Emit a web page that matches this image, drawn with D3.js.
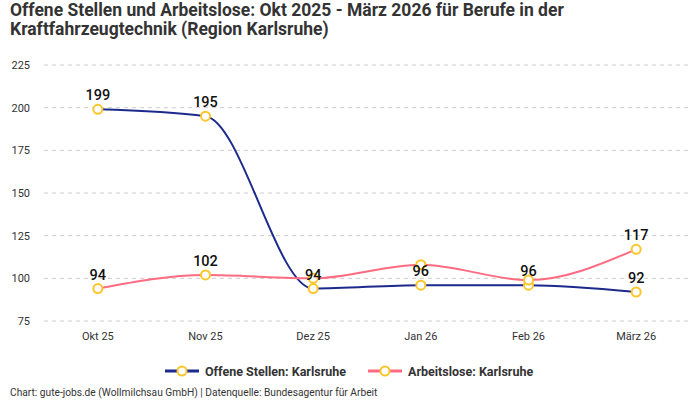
<!DOCTYPE html>
<html>
<head>
<meta charset="utf-8">
<script src="https://cdn.jsdelivr.net/npm/d3@7"></script>
<style>
  body { margin: 0; background: #fff; }
  svg { font-family: Roboto, "Noto Sans", sans-serif; }
</style>
</head>
<body>
<svg id="chart" width="700" height="400"></svg>
<script>
// data
const months = ['Okt 25', 'Nov 25', 'Dez 25', 'Jan 26', 'Feb 26', 'März 26'];
const offeneStellen = [199, 195, 94, 96, 96, 92];
const arbeitslose = [94, 102, 100, 108, 99, 117];
const yTicks = [75, 100, 125, 150, 175, 200, 225];
const seriesNames = ['Offene Stellen: Karlsruhe', 'Arbeitslose: Karlsruhe'];

const colors = ['#1b2a8c', '#ff6b81'];
const markerColor = '#fcc62b';

const svg = d3.select('#chart');

svg.append('text')
  .attr('x', 10).attr('y', 16)
  .attr('font-size', 17.5).attr('font-weight', 700).attr('fill', '#333')
  .text('Offene Stellen und Arbeitslose: Okt 2025 - März 2026 für Berufe in der');
svg.append('text')
  .attr('x', 10).attr('y', 35)
  .attr('font-size', 17.5).attr('font-weight', 700).attr('fill', '#333')
  .text('Kraftfahrzeugtechnik (Region Karlsruhe)');

const x = d3.scaleBand().domain(months).range([44, 690]);
const y = d3.scaleLinear().domain([75, 225]).range([321, 65]);
const cx = d => x(d) + x.bandwidth() / 2;

// grid
svg.append('g')
  .selectAll('line')
  .data(yTicks)
  .join('line')
  .attr('x1', 44).attr('x2', 690)
  .attr('y1', d => y(d)).attr('y2', d => y(d))
  .attr('stroke', '#ccc').attr('stroke-dasharray', '4,4');

// y axis labels
svg.append('g')
  .selectAll('text')
  .data(yTicks)
  .join('text')
  .attr('x', 30).attr('y', d => y(d) + 4)
  .attr('text-anchor', 'end')
  .attr('font-size', 11).attr('fill', '#333')
  .text(d => d);

// x axis labels
svg.append('g')
  .selectAll('text')
  .data(months)
  .join('text')
  .attr('x', d => cx(d)).attr('y', 340)
  .attr('text-anchor', 'middle')
  .attr('font-size', 11).attr('fill', '#333')
  .text(d => d);

const series = [offeneStellen, arbeitslose];
const line = d3.line()
  .x((d, i) => cx(months[i]))
  .y(d => y(d))
  .curve(d3.curveMonotoneX);

series.forEach((vals, s) => {
  svg.append('path')
    .datum(vals)
    .attr('d', line)
    .attr('fill', 'none')
    .attr('stroke', colors[s])
    .attr('stroke-width', 2);
});

series.forEach((vals, s) => {
  svg.append('g')
    .selectAll('circle')
    .data(vals)
    .join('circle')
    .attr('cx', (d, i) => cx(months[i]))
    .attr('cy', d => y(d))
    .attr('r', 4.5)
    .attr('fill', '#fff')
    .attr('stroke', markerColor)
    .attr('stroke-width', 2);
});

// value labels, later series hidden where they would collide
const placed = [];
series.forEach((vals, s) => {
  vals.forEach((v, i) => {
    const lx = cx(months[i]), ly = y(v) - 9;
    const box = {x0: lx - 12, x1: lx + 12, y0: ly - 20, y1: ly + 4};
    const hit = placed.some(b => box.x0 < b.x1 && box.x1 > b.x0 && box.y0 < b.y1 && box.y1 > b.y0);
    if (hit) return;
    placed.push(box);
    svg.append('text')
      .attr('x', lx).attr('y', ly)
      .attr('text-anchor', 'middle')
      .attr('font-size', 14.5).attr('font-weight', 500).attr('fill', '#111')
      .text(v);
  });
});

// legend
const legendX = [165, 368];
seriesNames.forEach((name, s) => {
  const g = svg.append('g').attr('transform', `translate(${legendX[s]},371)`);
  g.append('line').attr('x1', 0).attr('x2', 34)
    .attr('stroke', colors[s]).attr('stroke-width', 3);
  g.append('circle').attr('cx', 17).attr('r', 4.5)
    .attr('fill', '#fff').attr('stroke', markerColor).attr('stroke-width', 2);
  g.append('text').attr('x', 40).attr('y', 4.5)
    .attr('font-size', 12.5).attr('font-weight', 700).attr('fill', '#333')
    .text(name);
});

svg.append('text')
  .attr('x', 10).attr('y', 396)
  .attr('font-size', 10.2).attr('fill', '#333')
  .text('Chart: gute-jobs.de (Wollmilchsau GmbH) | Datenquelle: Bundesagentur für Arbeit');
</script>
</body>
</html>
